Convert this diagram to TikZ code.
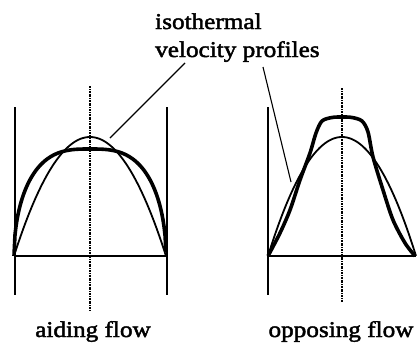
\documentclass[tikz,border=0pt]{standalone}
\usepackage{fontspec}
\setmainfont{Liberation Serif}[FakeStretch=1.12, FakeBold=2]
\usetikzlibrary{positioning}

\begin{document}
\begin{tikzpicture}[
  x=1pt, y=-1pt,
  wall/.style     = {line width=2.6pt},
  base/.style     = {line width=2.2pt},
  axisline/.style = {line width=1.3pt, dash pattern=on 2pt off 1pt on 0.6pt off 1pt},
  isoprof/.style  = {line width=1.8pt},
  mixprof/.style  = {line width=3.6pt, line join=round},
  leader/.style   = {line width=1.1pt},
  label/.style    = {font=\fontsize{22.5}{26}\selectfont, inner sep=0pt},
]
  \useasboundingbox (0,0) rectangle (417,348);

  % aiding flow
  \coordinate (aL) at (15,256);
  \coordinate (aR) at (167,256);
  \draw[wall] (15,107) -- (15,295);
  \draw[wall] (167,107) -- (167,295);
  \draw[base] (aL) -- (aR);
  \draw[axisline] (90,86) -- (90,310);
  \draw[isoprof] plot[domain=-1:1, samples=81] ({90+76*\x}, {256-119*(1-\x*\x)});
  \draw[mixprof] plot[domain=-1:1, samples=161]
    ({90+76*\x}, {256-107*sqrt(max(1-abs(\x*\x*\x),0))});

  % opposing flow
  \coordinate (oL) at (268,256);
  \coordinate (oR) at (416,256);
  \draw[wall] (268,107) -- (268,295);
  \draw[base] (oL) -- (oR);
  \draw[axisline] (342,88) -- (342,302);
  \draw[isoprof] plot[domain=-1:1, samples=81] ({342+74*\x}, {256-119*(1-\x*\x)});
  \draw[mixprof] plot[smooth, tension=0.5] coordinates {
    (268,256) (280,233) (290,210) (300,180) (310,153) (316,133) (322,121)
    (332,117.5) (342,117) (352,117.5) (362,121) (368,132) (373,157)
    (383,190) (393,220) (405,243) (415,256)};

  % labels
  \node[label, anchor=base west] (isoA) at (155,29) {isothermal};
  \node[label, anchor=base west] (isoB) at (155,57) {velocity profiles};
  \node[label, anchor=base] (aid) at (93,337) {aiding flow};
  \node[label, anchor=base] (opp) at (341,337) {opposing flow};

  \coordinate (ldA) at (185,63);
  \coordinate (tipA) at (110,138);
  \coordinate (ldB) at (263,67);
  \coordinate (tipB) at (291,182);
  \draw[leader] (ldA) -- (tipA);
  \draw[leader] (ldB) -- (tipB);
\end{tikzpicture}
\end{document}
